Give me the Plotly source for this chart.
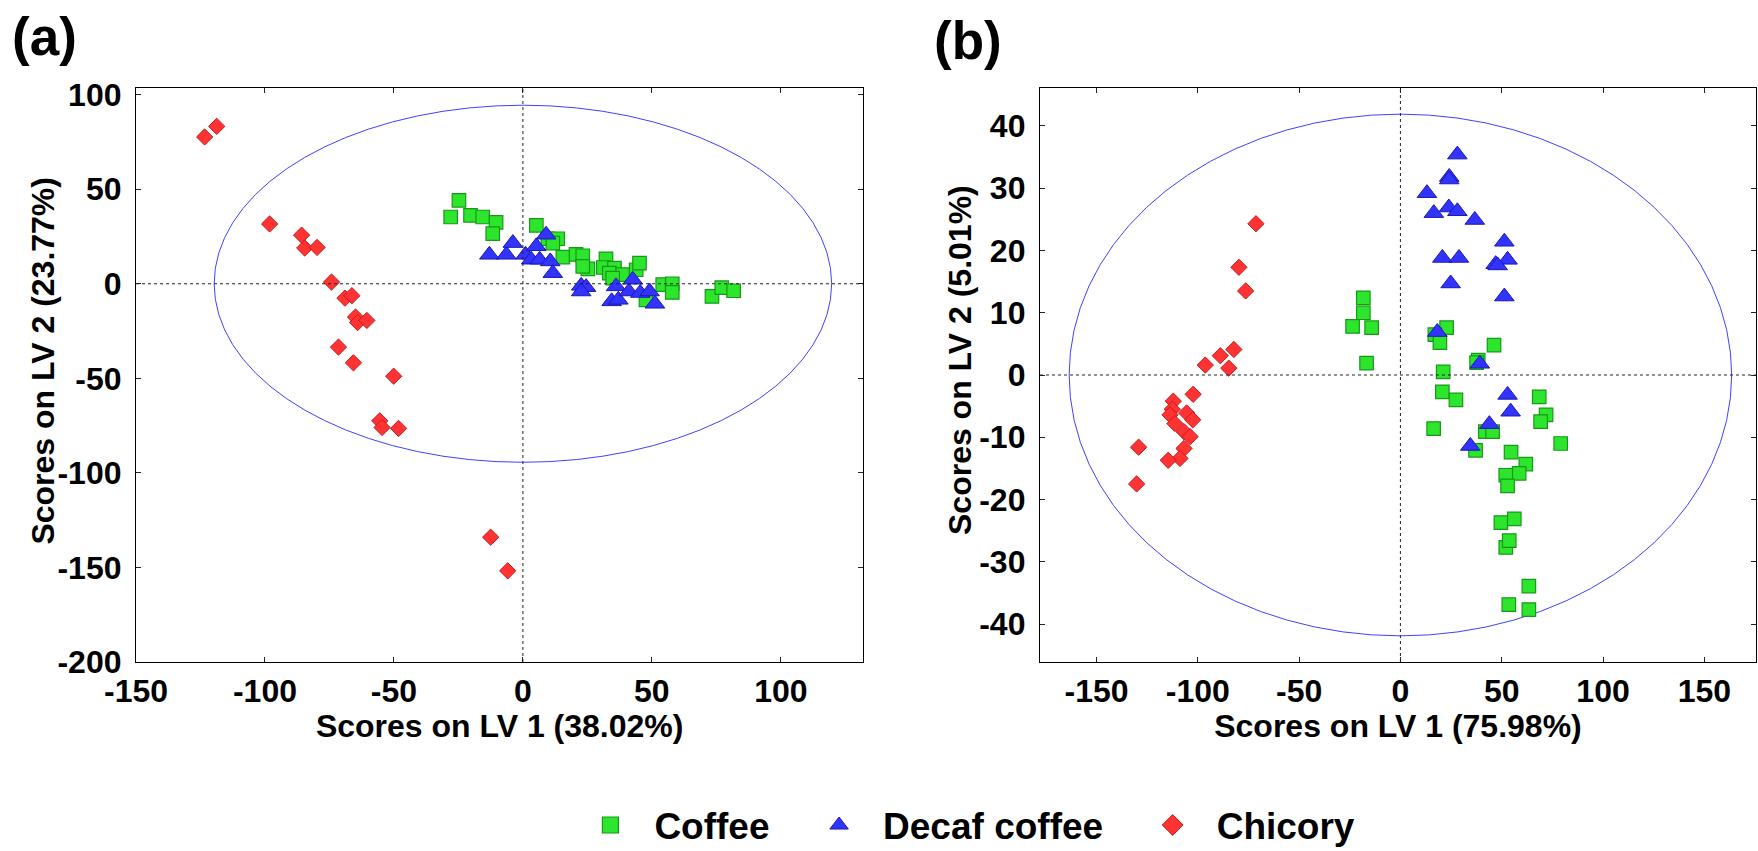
import numpy as np
import plotly.graph_objects as go

# ---------------- data: panel (a) ----------------
coffee_a_x = [-24.8, -28.0, -20.3, -15.6, -10.4, -11.7, 5.2, 9.7, 13.5, 11.6, 15.5, 20.6, 23.2, 25.2, 23.2,
              32.2, 31.2, 35.5, 33.5, 38.7, 34.8, 43.9, 45.2, 47.7, 54.2, 57.9, 57.9, 73.3, 77.1, 81.7]
coffee_a_y = [44.1, 35.3, 36.2, 35.3, 32.5, 26.5, 30.9, 23.8, 23.8, 21.5, 14.1, 15.5, 14.8, 7.9, 9.2,
              13.2, 8.6, 8.3, 5.6, 4.8, 3.0, 7.4, 10.9, -8.5, -0.5, 0.0, -4.6, -6.7, -2.1, -3.7]
decaf_a_x = [-13.0, -6.4, -3.9, 1.0, 3.2, 5.2, 6.5, 9.0, 10.6, 11.6, 22.6, 24.5, 22.6, 36.1, 34.4,
             37.0, 41.1, 42.6, 45.5, 49.1, 51.2]
decaf_a_y = [15.3, 15.3, 21.5, 15.3, 12.7, 19.8, 12.7, 25.9, 11.8, 5.6, -1.1, -1.8, -4.1, -1.4, -9.3,
             -8.5, -4.1, 2.1, -4.9, -4.1, -10.6]
chicory_a_x = [-123.4, -118.7, -98.2, -85.8, -84.6, -79.8, -74.2, -69.0, -66.3, -64.9, -64.1, -60.5,
               -71.5, -65.7, -50.1, -55.5, -54.6, -48.2, -12.5, -5.9]
chicory_a_y = [77.6, 83.2, 31.6, 25.7, 18.9, 19.2, 0.9, -7.6, -6.3, -17.6, -20.5, -19.4,
               -33.5, -41.8, -48.9, -72.5, -76.0, -76.5, -134.0, -151.8]

# ---------------- data: panel (b) ----------------
coffee_b_x = [-18.3, -18.3, -23.6, -14.2, -16.7, 22.8, 17.0, 19.5, 46.2, 38.4, 37.6, 21.1, 20.7, 27.4,
              68.5, 16.4, 71.9, 69.2, 79.1, 41.9, 45.5, 37.1, 54.6, 61.9, 58.6, 52.0, 52.9, 49.6,
              56.2, 52.0, 53.7, 63.4, 53.5, 63.4]
coffee_b_y = [12.4, 10.0, 7.8, 7.6, 1.9, 7.6, 6.5, 5.2, 4.8, 2.4, 2.0, 0.5, -2.7, -4.0,
              -3.5, -8.6, -6.4, -7.5, -11.0, -9.1, -9.1, -12.1, -12.4, -14.3, -15.8, -16.1, -17.8, -23.7,
              -23.1, -27.7, -26.6, -33.9, -36.9, -37.7]
decaf_b_x = [28.1, 24.1, 24.1, 13.1, 23.9, 28.1, 16.5, 36.7, 51.3, 20.7, 28.9, 52.9, 47.0, 48.0,
             24.8, 51.3, 18.2, 39.2, 52.9, 54.4, 43.9, 34.5]
decaf_b_y = [35.4, 31.8, 31.4, 29.2, 26.9, 26.3, 26.0, 24.9, 21.4, 18.8, 18.8, 18.5, 17.8, 17.6,
             14.7, 12.6, 6.9, 1.8, -3.2, -5.9, -7.9, -11.4]
chicory_b_x = [-71.3, -79.7, -76.4, -82.2, -88.9, -84.7, -96.3, -102.3, -112.1, -112.6, -113.7, -105.5,
               -102.5, -111.3, -106.8, -103.8, -106.8, -108.8, -114.6, -129.2, -130.2]
chicory_b_y = [24.3, 17.3, 13.5, 4.1, 3.1, 1.1, 1.6, -3.1, -4.2, -5.5, -6.4, -6.1,
               -7.2, -7.8, -9.1, -9.9, -11.8, -13.4, -13.7, -11.6, -17.5]

# confidence ellipse semi-axes (LV1, LV2)
ellipse_a = (119.7, 94.4)
ellipse_b = (163.5, 41.9)

# tick values / labels
xticks_a = [-150, -100, -50, 0, 50, 100]
xticklabels_a = ["-150", "-100", "-50", "0", "50", "100"]
yticks_a = [-200, -150, -100, -50, 0, 50, 100]
yticklabels_a = ["-200", "-150", "-100", "-50", "0", "50", "100"]
xticks_b = [-150, -100, -50, 0, 50, 100, 150]
xticklabels_b = ["-150", "-100", "-50", "0", "50", "100", "150"]
yticks_b = [-40, -30, -20, -10, 0, 10, 20, 30, 40]
yticklabels_b = ["-40", "-30", "-20", "-10", "0", "10", "20", "30", "40"]

x_label_a = "Scores on LV 1 (38.02%)"
y_label_a = "Scores on LV 2 (23.77%)"
x_label_b = "Scores on LV 1 (75.98%)"
y_label_b = "Scores on LV 2 (5.01%)"
classes = ["Coffee", "Decaf coffee", "Chicory"]

FONT = "Liberation Sans, Arial, Helvetica, sans-serif"

styles = {
    "Coffee": dict(symbol="square", size=13.5, color="#2EE52E", line=dict(color="#159A15", width=1.2)),
    "Decaf coffee": dict(symbol="triangle-up", size=17, color="#3333FF", line=dict(color="#1818B0", width=1)),
    "Chicory": dict(symbol="diamond", size=12.5, color="#FF3333", line=dict(color="#C81A1A", width=1)),
}

fig = go.Figure()

t = np.linspace(0, 2 * np.pi, 73)
for (ea, eb), xa, ya in [(ellipse_a, "x", "y"), (ellipse_b, "x2", "y2")]:
    fig.add_trace(go.Scatter(x=ea * np.cos(t), y=eb * np.sin(t), mode="lines",
                             line=dict(color="#4040FF", width=1), xaxis=xa, yaxis=ya,
                             showlegend=False, hoverinfo="skip"))

panel_data = [
    ("x", "y", [(coffee_a_x, coffee_a_y), (decaf_a_x, decaf_a_y), (chicory_a_x, chicory_a_y)]),
    ("x2", "y2", [(coffee_b_x, coffee_b_y), (decaf_b_x, decaf_b_y), (chicory_b_x, chicory_b_y)]),
]
for xa, ya, series in panel_data:
    for name, (xs, ys) in zip(classes, series):
        fig.add_trace(go.Scatter(x=xs, y=ys, mode="markers", name=name, marker=styles[name],
                                 xaxis=xa, yaxis=ya, showlegend=False))

# legend entries (bigger symbols); trailing no-break spaces widen the gap between entries
pad = "\u00a0\u00a0"
for i, name in enumerate(classes):
    st = dict(styles[name])
    st["size"] = 16
    label = name + (pad if i < len(classes) - 1 else "")
    fig.add_trace(go.Scatter(x=[None], y=[None], mode="markers", name=label, marker=st,
                             xaxis="x", yaxis="y", showlegend=True))

ax_common = dict(showline=True, linecolor="black", linewidth=1.2, mirror="allticks",
                 ticks="inside", ticklen=5, tickwidth=1, tickcolor="#222",
                 showgrid=False, zeroline=False, tickmode="array",
                 tickfont=dict(family=FONT, size=32, color="black", weight="bold"))

title_font = dict(family=FONT, size=32, color="black", weight="bold")

fig.update_layout(
    width=1758, height=851,
    margin=dict(l=136, r=2, t=88, b=189),
    paper_bgcolor="white", plot_bgcolor="white",
    xaxis=dict(domain=[0, 0.449], range=[-150, 132], tickvals=xticks_a, ticktext=xticklabels_a,
               anchor="y", ticklabelstandoff=0,
               title=dict(text=x_label_a, font=title_font, standoff=6), **ax_common),
    yaxis=dict(domain=[0, 1], range=[-200, 103.5], tickvals=yticks_a, ticktext=yticklabels_a,
               anchor="x", ticklabelstandoff=7, **ax_common),
    xaxis2=dict(domain=[0.558, 1], range=[-177.9, 175.5], tickvals=xticks_b, ticktext=xticklabels_b,
                anchor="y2", ticklabelstandoff=0,
                title=dict(text=x_label_b, font=title_font, standoff=6), **ax_common),
    yaxis2=dict(domain=[0, 1], range=[-46.1, 46.1], tickvals=yticks_b, ticktext=yticklabels_b,
                anchor="x2", ticklabelstandoff=7, **ax_common),
    legend=dict(orientation="h", xref="container", yref="container", x=0.548, y=0.03,
                xanchor="center", yanchor="middle", itemwidth=78,
                font=dict(family=FONT, size=37, color="black", weight="bold"),
                bgcolor="rgba(0,0,0,0)"),
    shapes=[
        dict(type="line", xref="x", yref="y domain", x0=0, x1=0, y0=0, y1=1,
             line=dict(color="#222", width=1, dash="dot")),
        dict(type="line", xref="x domain", yref="y", x0=0, x1=1, y0=0, y1=0,
             line=dict(color="#222", width=1, dash="dot")),
        dict(type="line", xref="x2", yref="y2 domain", x0=0, x1=0, y0=0, y1=1,
             line=dict(color="#222", width=1, dash="dot")),
        dict(type="line", xref="x2 domain", yref="y2", x0=0, x1=1, y0=0, y1=0,
             line=dict(color="#222", width=1, dash="dot")),
    ],
    annotations=[
        dict(text="(a)", xref="paper", yref="paper", x=-0.0562, y=1.0889, showarrow=False,
             xanchor="center", yanchor="middle", font=dict(family=FONT, size=53, color="black", weight="bold")),
        dict(text="(b)", xref="paper", yref="paper", x=0.5136, y=1.0836, showarrow=False,
             xanchor="center", yanchor="middle", font=dict(family=FONT, size=53, color="black", weight="bold")),
        dict(text=y_label_a, xref="paper", yref="paper", x=-0.0571, y=0.526, textangle=-90,
             showarrow=False, xanchor="center", yanchor="middle", font=title_font),
        dict(text=y_label_b, xref="paper", yref="paper", x=0.5086, y=0.526, textangle=-90,
             showarrow=False, xanchor="center", yanchor="middle", font=title_font),
    ],
)

fig.write_html("out.html")
